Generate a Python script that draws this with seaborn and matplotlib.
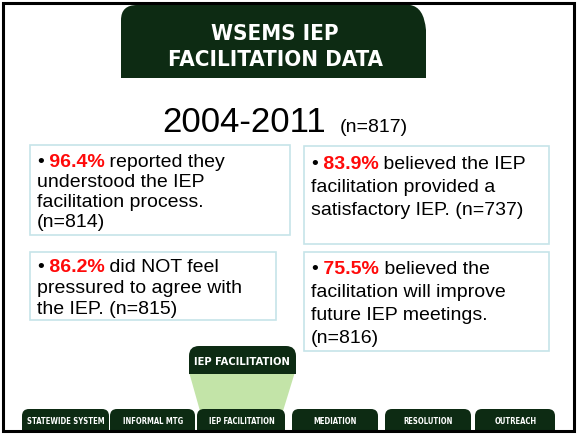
import matplotlib
matplotlib.use('Agg')
import matplotlib.pyplot as plt
from matplotlib.patches import Rectangle, Polygon, PathPatch
from matplotlib.path import Path
import seaborn as sns

# slide content
title_lines = ['WSEMS IEP', 'FACILITATION DATA']
period = '2004-2011'
period_n = '(n=817)'

pct_values = [96.4, 86.2, 83.9, 75.5]
n_values = [814, 815, 737, 816]
statements = [
    ['reported they', 'understood the IEP', 'facilitation process.', '(n={n})'],
    ['did NOT feel', 'pressured to agree with', 'the IEP. (n={n})'],
    ['believed the IEP', 'facilitation provided a', 'satisfactory IEP. (n={n})'],
    ['believed the', 'facilitation will improve', 'future IEP meetings.', '(n={n})'],
]

tab_labels = ['STATEWIDE SYSTEM', 'INFORMAL MTG', 'IEP FACILITATION',
              'MEDIATION', 'RESOLUTION', 'OUTREACH']
active_tab = 'IEP FACILITATION'

# layout (pixels, y down)
box_rects = [(30, 145, 260, 90), (30, 252, 246, 68), (304, 146, 245, 98), (304, 252, 245, 99)]
box_first_base = [22, 20, 23, 22]
box_spacing = [20, 21, 23, 23]
tab_x = [(22, 110), (110, 196), (197, 286), (292, 379), (385, 472), (475, 556)]

DARK = '#0d2b13'
LIGHT_GREEN = '#c3e4a8'
BOX_EDGE = '#c6e4e9'
RED = '#ff0a0a'

sns.set_theme(style='white')
plt.rcParams['font.family'] = ['Liberation Sans', 'DejaVu Sans']
cond = dict(family='DejaVu Sans', fontstretch='condensed', fontweight='bold')

fig = plt.figure(figsize=(5.77, 4.34), dpi=100)
ax = fig.add_axes([0, 0, 1, 1])
ax.set_xlim(0, 577)
ax.set_ylim(434, 0)
ax.axis('off')

M, L, C, Z = Path.MOVETO, Path.LINETO, Path.CURVE3, Path.CLOSEPOLY


def tab_shape(x0, x1, y0, y1, r):
    verts = [(x0, y1), (x0, y0 + r), (x0, y0), (x0 + r, y0),
             (x1 - r, y0), (x1, y0), (x1, y0 + r), (x1, y1), (x0, y1)]
    codes = [M, L, C, C, L, C, C, L, Z]
    return PathPatch(Path(verts, codes), facecolor=DARK, edgecolor='none')


# header banner with rounded corner and page curl
hv = [(121, 78), (121, 20), (121, 5), (137, 5), (410, 5), (424, 7), (426, 30), (426, 78), (121, 78)]
hc = [M, L, C, C, L, C, C, L, Z]
ax.add_patch(PathPatch(Path(hv, hc), facecolor=DARK, edgecolor='none'))
ax.text(275, 34, title_lines[0], color='white', fontsize=16, ha='center', va='center', **cond)
ax.text(275, 60, title_lines[1], color='white', fontsize=16, ha='center', va='center', **cond)

# period heading
ax.text(162, 132, period, fontsize=25, color='black', ha='left', va='baseline')
ax.text(340, 132, period_n, fontsize=14, color='black', ha='left', va='baseline')

# statement boxes
for i, (x, y, w, h) in enumerate(box_rects):
    ax.add_patch(Rectangle((x, y), w, h, facecolor='white', edgecolor=BOX_EDGE, lw=1.2))
    tx = x + 7
    base = y + box_first_base[i]
    lines = [s.format(n=n_values[i]) for s in statements[i]]
    t0 = ax.text(tx, base, '\u2022', fontsize=14, color='black', va='baseline')
    t1 = ax.annotate(f' {pct_values[i]}%', xy=(1, 0), xycoords=t0, fontsize=14,
                     color=RED, fontweight='bold', va='bottom')
    ax.annotate(' ' + lines[0], xy=(1, 0), xycoords=t1, fontsize=14,
                color='black', va='bottom')
    for k, line in enumerate(lines[1:], start=1):
        ax.text(tx, base + k * box_spacing[i], line, fontsize=14,
                color='black', va='baseline')

# navigation tabs
ax.add_patch(Polygon([(189, 372), (295, 372), (283, 411), (200, 411)],
                     closed=True, facecolor=LIGHT_GREEN, edgecolor='none'))
ax.add_patch(tab_shape(189, 296, 346, 374, 10))
ax.text(242, 362, active_tab, color='white', fontsize=8, ha='center', va='center', **cond)

for (x0, x1), lab in zip(tab_x, tab_labels):
    ax.add_patch(tab_shape(x0, x1 - 1, 409, 432, 7))
    ax.text((x0 + x1) / 2, 421, lab, color='white', fontsize=5.5, ha='center', va='center', **cond)

# slide frame
ax.add_patch(Rectangle((3, 3), 571, 428, facecolor='none', edgecolor='black', lw=2.2))

fig.savefig('out.png', dpi=100)
